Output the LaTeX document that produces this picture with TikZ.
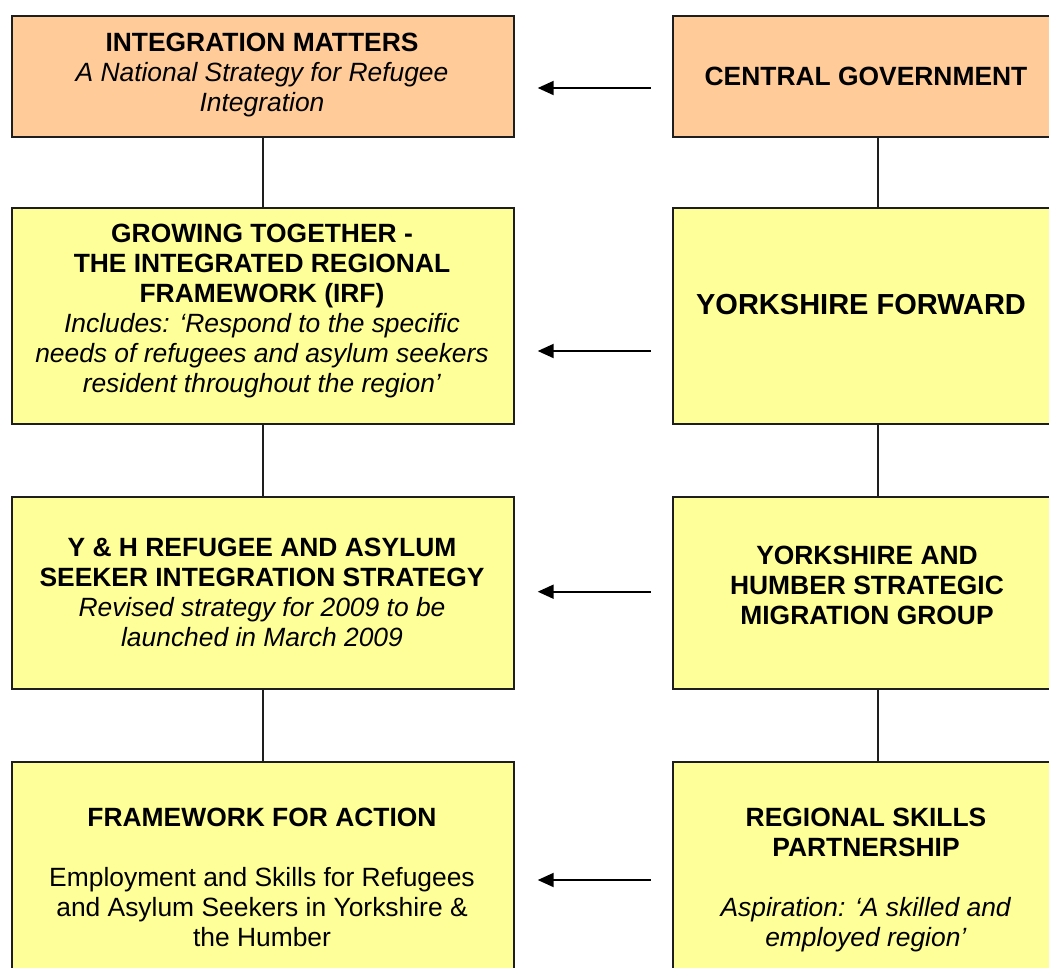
\documentclass[tikz,border=0pt]{standalone}
\usepackage{fontspec}
\setmainfont{Liberation Sans}
\usetikzlibrary{arrows.meta}
\definecolor{peach}{HTML}{FFCC99}
\definecolor{lemon}{HTML}{FFFF99}
\definecolor{edge}{HTML}{1E1E1E}
\tikzset{
  boxbase/.style={draw=edge, line width=2pt, inner sep=0pt, anchor=north west},
  peachbox/.style={boxbase, fill=peach},
  lemonbox/.style={boxbase, fill=lemon},
  txt/.style={align=center, anchor=base, inner sep=0pt, font=\fontsize{26.4}{30}\selectfont},
  bigtxt/.style={align=center, anchor=base, inner sep=0pt, font=\fontsize{29}{33}\selectfont},
  link/.style={draw=edge, line width=2pt},
  arr/.style={draw=black, line width=2pt, -{Triangle[length=16pt,width=14pt]}, shorten <=21pt, shorten >=23pt}
}
\begin{document}
\begin{tikzpicture}[x=1pt,y=-1pt]
\useasboundingbox (0,0) rectangle (1049,967);
\clip (0,0) rectangle (1049,967);
% left boxes
\node[peachbox, minimum width=502pt, minimum height=120.7pt] (l1) at (10.7,15) {};
\node[lemonbox, minimum width=502pt, minimum height=216pt] (l2) at (10.7,207.3) {};
\node[lemonbox, minimum width=502pt, minimum height=192pt] (l3) at (10.7,495.7) {};
\node[lemonbox, minimum width=502pt, minimum height=240pt] (l4) at (10.7,761) {};
% right boxes
\node[peachbox, minimum width=411.3pt, minimum height=120.7pt] (r1) at (671.7,15) {};
\node[lemonbox, minimum width=411.3pt, minimum height=216pt] (r2) at (671.7,207.3) {};
\node[lemonbox, minimum width=411.3pt, minimum height=192pt] (r3) at (671.7,495.7) {};
\node[lemonbox, minimum width=411.3pt, minimum height=240pt] (r4) at (671.7,761) {};
% vertical links
\draw[link] (l1.south) -- (l2.north);
\draw[link] (l2.south) -- (l3.north);
\draw[link] (l3.south) -- (l4.north);
\draw[link] (r1.south) -- (r2.north);
\draw[link] (r2.south) -- (r3.north);
\draw[link] (r3.south) -- (r4.north);
% arrows
\draw[arr] (r1.west |- 0,88) -- (l1.east |- 0,88);
\draw[arr] (r2.west |- 0,351) -- (l2.east |- 0,351);
\draw[arr] (r3.west |- 0,591.7) -- (l3.east |- 0,591.7);
\draw[arr] (r4.west |- 0,880) -- (l4.east |- 0,880);
% texts (anchor = baseline of last line)
\node[txt] (t1) at (262,111.7) {\textbf{INTEGRATION MATTERS}\\ \textit{A National Strategy for Refugee}\\ \textit{Integration}};
\node[txt] (u1) at (866,85.5) {\textbf{CENTRAL GOVERNMENT}};
\node[txt] (t2) at (262,392.5) {\textbf{GROWING TOGETHER -}\\ \textbf{THE INTEGRATED REGIONAL}\\ \textbf{FRAMEWORK (IRF)}\\ \textit{Includes: ‘Respond to the specific}\\ \textit{needs of refugees and asylum seekers}\\ \textit{resident throughout the region’}};
\node[bigtxt] (u2) at (861,314) {\textbf{YORKSHIRE FORWARD}};
\node[txt] (t3) at (262,646) {\textbf{Y \& H REFUGEE AND ASYLUM}\\ \textbf{SEEKER INTEGRATION STRATEGY}\\ \textit{Revised strategy for 2009 to be}\\ \textit{launched in March 2009}};
\node[txt] (u3) at (867,624.5) {\textbf{YORKSHIRE AND}\\ \textbf{HUMBER STRATEGIC}\\ \textbf{MIGRATION GROUP}};
\node[txt] (t4) at (262,946.5) {\textbf{FRAMEWORK FOR ACTION}\\[30pt] Employment and Skills for Refugees\\ and Asylum Seekers in Yorkshire \&\\ the Humber};
\node[txt] (u4) at (866,946.5) {\textbf{REGIONAL SKILLS}\\ \textbf{PARTNERSHIP}\\[30pt] \textit{Aspiration: ‘A skilled and}\\ \textit{employed region’}};
\end{tikzpicture}
\end{document}
